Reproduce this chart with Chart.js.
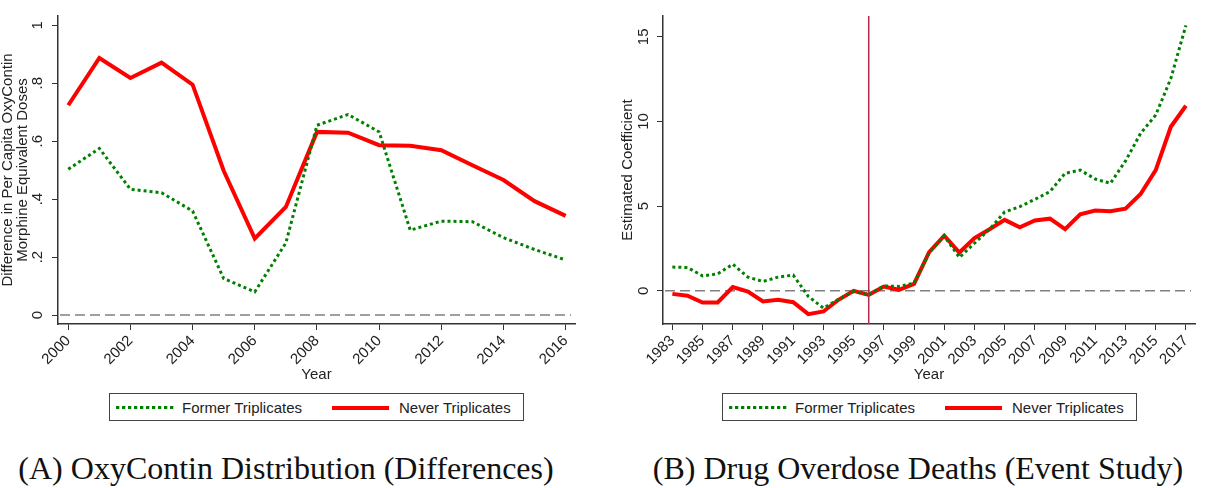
<!DOCTYPE html>
<html>
<head>
<meta charset="utf-8">
<script src="https://cdn.jsdelivr.net/npm/chart.js@4.4.1/dist/chart.umd.min.js"></script>
<style>
body { margin:0; background:#fff; width:1212px; height:488px; overflow:hidden; position:relative; font-family:'Liberation Sans', Arial, sans-serif; }
canvas { position:absolute; top:0; }
#chartA { left:0; }
#chartB { left:606px; }
.legend { position:absolute; top:393px; height:28px; width:415px; border:1px solid #444; box-sizing:border-box; font-size:15px; color:#222; }
.legend span { position:absolute; top:0; line-height:27px; white-space:nowrap; }
.legend i { position:absolute; display:block; }
.dots { top:12px; height:3px; width:58px; background:repeating-linear-gradient(90deg, #008000 0 3px, #b5d9b5 3px 4px, transparent 4px 6px); }
.solid { top:12px; height:4px; width:57px; background:#ff0000; }
.caption { position:absolute; top:450px; font-family:'Liberation Serif', 'Times New Roman', serif; font-size:32px; color:#111; white-space:nowrap; text-align:center; }
</style>
</head>
<body>
<canvas id="chartA" width="606" height="390"></canvas>
<canvas id="chartB" width="606" height="390"></canvas>

<div class="legend" style="left:109px">
  <i class="dots" style="left:6px"></i><span style="left:72px">Former Triplicates</span>
  <i class="solid" style="left:222px"></i><span style="left:289px">Never Triplicates</span>
</div>
<div class="legend" style="left:722px">
  <i class="dots" style="left:6px"></i><span style="left:72px">Former Triplicates</span>
  <i class="solid" style="left:222px"></i><span style="left:289px">Never Triplicates</span>
</div>

<div class="caption" style="left:0;width:572px">(A) OxyContin Distribution (Differences)</div>
<div class="caption" style="left:636px;width:564px">(B) Drug Overdose Deaths (Event Study)</div>

<script>
// panel A : OxyContin distribution, differences
var yearsA = [2000,2001,2002,2003,2004,2005,2006,2007,2008,2009,2010,2011,2012,2013,2014,2015,2016];
var formerA = [0.503,0.575,0.434,0.422,0.359,0.126,0.080,0.249,0.655,0.692,0.632,0.293,0.324,0.322,0.267,0.226,0.190];
var neverA  = [0.724,0.887,0.818,0.871,0.795,0.498,0.264,0.373,0.632,0.629,0.586,0.584,0.569,0.517,0.466,0.393,0.342];
var xTicksA = [2000,2002,2004,2006,2008,2010,2012,2014,2016];
var yTicksA = [0,0.2,0.4,0.6,0.8,1];
var yLabelsA = ['0','.2','.4','.6','.8','1'];

// panel B : drug overdose deaths, event study
var yearsB = [1983,1984,1985,1986,1987,1988,1989,1990,1991,1992,1993,1994,1995,1996,1997,1998,1999,
              2000,2001,2002,2003,2004,2005,2006,2007,2008,2009,2010,2011,2012,2013,2014,2015,2016,2017];
var formerB = [1.40,1.38,0.88,1.00,1.57,0.81,0.55,0.81,0.93,-0.33,-1.02,-0.50,-0.04,-0.24,0.29,0.26,0.45,
               2.25,3.24,1.97,2.81,3.64,4.66,4.97,5.40,5.86,6.94,7.13,6.60,6.35,7.67,9.30,10.38,12.54,15.68];
var neverB  = [-0.18,-0.29,-0.69,-0.69,0.22,-0.04,-0.63,-0.53,-0.67,-1.38,-1.22,-0.53,0.00,-0.24,0.25,0.06,0.41,
               2.28,3.26,2.26,3.11,3.64,4.19,3.75,4.15,4.26,3.64,4.52,4.74,4.70,4.85,5.72,7.13,9.69,10.93];
var xTicksB = [1983,1985,1987,1989,1991,1993,1995,1997,1999,2001,2003,2005,2007,2009,2011,2013,2015,2017];
var yTicksB = [0,5,10,15];
var yLabelsB = ['0','5','10','15'];
var eventYear = 1996;

Chart.defaults.font.family = "'Liberation Sans', Arial, sans-serif";
Chart.defaults.font.size = 15;
Chart.defaults.color = '#222';

var axisColor = '#333';

var refLines = {
	id: 'refLines',
	beforeDatasetsDraw: function(chart, args, opts) {
		var ctx = chart.ctx, area = chart.chartArea, y = chart.scales.y;
		var y0 = y.getPixelForValue(0);
		ctx.save();
		ctx.strokeStyle = '#808080';
		ctx.lineWidth = 1.5;
		ctx.setLineDash([10, 5]);
		ctx.beginPath();
		ctx.moveTo(area.left + 2, y0);
		ctx.lineTo(area.right - 4, y0);
		ctx.stroke();
		ctx.restore();
	},
	afterDatasetsDraw: function(chart, args, opts) {
		if (opts.vline == null) return;
		var ctx = chart.ctx, area = chart.chartArea;
		var px = chart.scales.x.getPixelForValue(opts.vline);
		ctx.save();
		ctx.strokeStyle = '#b8284e';
		ctx.lineWidth = 1.5;
		ctx.beginPath();
		ctx.moveTo(px, area.top);
		ctx.lineTo(px, area.bottom);
		ctx.stroke();
		ctx.restore();
	},
	afterDraw: function(chart, args, opts) {
		// vertical tick labels on the y axis, Stata style
		var ctx = chart.ctx, y = chart.scales.y;
		ctx.save();
		ctx.font = "15px 'Liberation Sans', Arial, sans-serif";
		ctx.fillStyle = '#222';
		ctx.textAlign = 'center';
		ctx.textBaseline = 'middle';
		y.ticks.forEach(function(t, i) {
			ctx.save();
			ctx.translate(opts.labelX, y.getPixelForValue(t.value));
			ctx.rotate(-Math.PI / 2);
			ctx.fillText(opts.labels[i], 0, 0);
			ctx.restore();
		});
		ctx.restore();
	}
};

function pts(xs, ys) {
	return xs.map(function(x, i) { return {x: x, y: ys[i]}; });
}

function makeChart(id, p) {
	return new Chart(document.getElementById(id), {
		type: 'line',
		plugins: [refLines],
		data: {
			datasets: [{
				label: 'Former Triplicates',
				data: pts(p.years, p.former),
				borderColor: '#008000',
				borderWidth: 3,
				borderDash: [3, 3],
				pointRadius: 0,
				tension: 0
			}, {
				label: 'Never Triplicates',
				data: pts(p.years, p.never),
				borderColor: '#ff0000',
				borderWidth: 4,
				pointRadius: 0,
				tension: 0
			}]
		},
		options: {
			responsive: false,
			animation: false,
			layout: { padding: { top: 16, right: p.padRight, left: 0, bottom: 0 } },
			plugins: {
				legend: { display: false },
				tooltip: { enabled: false },
				refLines: { vline: p.vline, labels: p.yLabels, labelX: 37.5 }
			},
			scales: {
				x: {
					type: 'linear',
					min: p.xMin, max: p.xMax,
					afterBuildTicks: function(s) { s.ticks = p.xTicks.map(function(v) { return {value: v}; }); },
					afterFit: function(s) { s.height = 66; },
					ticks: { autoSkip: false, minRotation: 45, maxRotation: 45, padding: 2, callback: function(v) { return String(v); } },
					grid: { drawOnChartArea: false, drawTicks: true, tickLength: 6, color: axisColor },
					border: { display: true, color: axisColor, width: 1.5 },
					title: { display: true, text: 'Year', padding: { top: 0, bottom: 6 } }
				},
				y: {
					min: p.yMin, max: p.yMax,
					afterBuildTicks: function(s) { s.ticks = p.yTicks.map(function(v) { return {value: v}; }); },
					afterFit: function(s) { s.width = p.yWidth; },
					ticks: { display: false },
					grid: { drawOnChartArea: false, drawTicks: true, tickLength: 6, color: axisColor },
					border: { display: true, color: axisColor, width: 1.5 },
					title: { display: true, text: p.yTitle, font: { size: 15, lineHeight: 1 }, padding: { top: p.titlePad, bottom: 0 } }
				}
			}
		}
	});
}

makeChart('chartA', {
	years: yearsA, former: formerA, never: neverA,
	xTicks: xTicksA, yTicks: yTicksA, yLabels: yLabelsA,
	xMin: 1999.67, xMax: 2016.3, yMin: -0.031, yMax: 1.032,
	yTitle: ['Difference in Per Capita OxyContin', 'Morphine Equivalent Doses'],
	titlePad: 0, yWidth: 58, padRight: 31, vline: null
});

makeChart('chartB', {
	years: yearsB, former: formerB, never: neverB,
	xTicks: xTicksB, yTicks: yTicksB, yLabels: yLabelsB,
	xMin: 1982.38, xMax: 2017.6, yMin: -1.96, yMax: 16.23,
	yTitle: 'Estimated Coefficient',
	titlePad: 14, yWidth: 57, padRight: 17, vline: eventYear
});
</script>
</body>
</html>
